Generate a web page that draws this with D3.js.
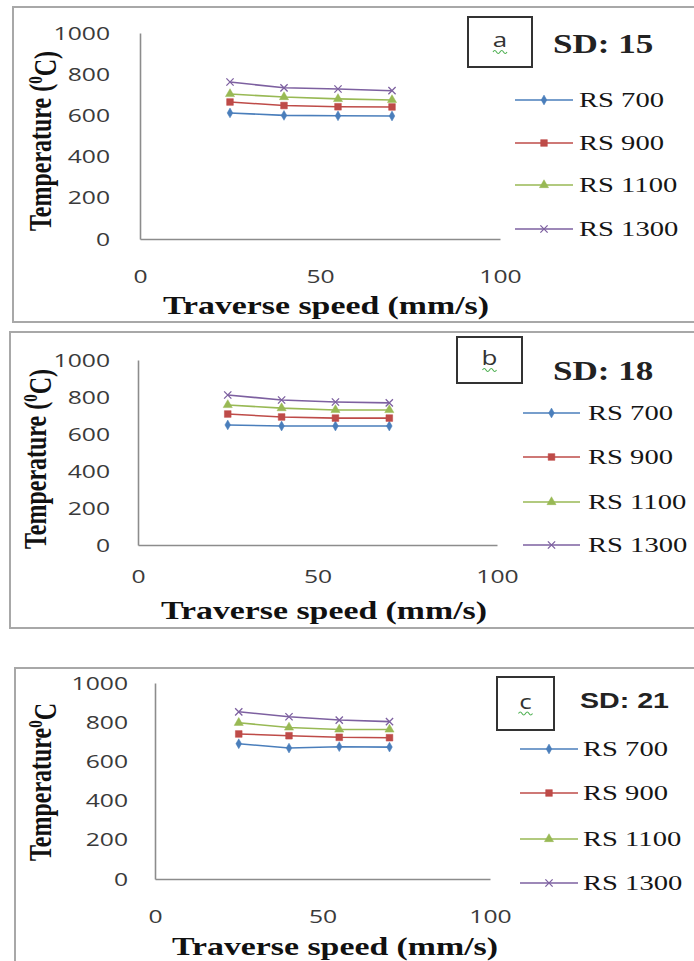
<!DOCTYPE html>
<html>
<head>
<meta charset="utf-8">
<script src="https://cdn.jsdelivr.net/npm/d3@7"></script>
<style>
  body { margin: 0; background: #fff; }
</style>
</head>
<body>
<div id="chart"></div>
<script>
'use strict';

// Data
const speeds = [25, 40, 55, 70];
const seriesNames = ['RS 700', 'RS 900', 'RS 1100', 'RS 1300'];
const tempTicks = [0, 200, 400, 600, 800, 1000];
const speedTicks = [0, 50, 100];

// temperatures per series (RS 700, 900, 1100, 1300) at each speed
const tempSD15 = [
    [612, 600, 598, 597],
    [665, 648, 642, 641],
    [704, 689, 680, 675],
    [762, 734, 728, 720]
];
const tempSD18 = [
    [649, 643, 643, 643],
    [708, 692, 686, 686],
    [757, 740, 730, 730],
    [811, 784, 773, 768]
];
const tempSD21 = [
    [690, 668, 675, 673],
    [740, 731, 723, 721],
    [797, 773, 763, 763],
    [853, 828, 811, 803]
];

// Configs
const W = 694, H = 961;
const SX = 1.3; // the original is stretched sideways
const colors = ['#4a7ebb', '#be4b48', '#98b954', '#7d60a0'];
const symbols = [d3.symbolDiamond, d3.symbolSquare, d3.symbolTriangle, d3.symbolX];
const symSize = [28, 45, 36, 36];
const serif = '"Liberation Serif", "Times New Roman", serif';
const sans = '"Open Sans", "Liberation Sans", sans-serif';

const panels = [
    {
        letter: 'a', sd: 'SD: 15', sdFont: serif, temps: tempSD15,
        frame: [13, 7, 315], plot: [140, 500, 239, 33],
        yGap: 30, xLabY: 270,
        yTitle: [40, 141], paren: true, xTitle: [326, 314],
        box: [468, 17, 64, 50], sdPos: [553, 53],
        legend: [515, 573, 579], rows: [100, 143, 185, 229]
    },
    {
        letter: 'b', sd: 'SD: 18', sdFont: serif, temps: tempSD18,
        frame: [10, 332, 296], plot: [138, 497, 545, 360],
        yGap: 28, xLabY: 570,
        yTitle: [35, 459], paren: true, xTitle: [324, 619],
        box: [457, 337, 65, 46], sdPos: [553, 380],
        legend: [523, 580, 588], rows: [413, 457, 502, 545]
    },
    {
        letter: 'c', sd: 'SD: 21', sdFont: '"Liberation Sans", Arial, sans-serif', temps: tempSD21,
        frame: [15, 668, 320], plot: [155, 490, 879, 683],
        yGap: 27, xLabY: 910,
        yTitle: [40, 782], paren: false, xTitle: [335, 955],
        box: [497, 677, 57, 53], sdPos: [580, 708],
        legend: [520, 578, 583], rows: [749, 793, 839, 883]
    }
];

const svg = d3.select('#chart')
    .append('svg')
    .attr('width', W)
    .attr('height', H);

// text squeezed back to the wide look of the picture
function wideText(sel, x, y, txt) {
    return sel.append('text')
        .attr('transform', `translate(${x},${y}) scale(${SX},1)`)
        .text(txt);
}

function marker(sel, i, cx, cy) {
    const isX = symbols[i] === d3.symbolX;
    sel.append('path')
        .attr('d', d3.symbol(symbols[i], symSize[i])())
        .attr('transform', `translate(${cx},${cy})`)
        .attr('fill', isX ? 'none' : colors[i])
        .attr('stroke', colors[i])
        .attr('stroke-width', isX ? 1.3 : 0.5);
}

function drawPanel(p) {
    const g = svg.append('g');

    // Frame
    g.append('rect')
        .attr('x', p.frame[0])
        .attr('y', p.frame[1])
        .attr('width', W + 20 - p.frame[0])
        .attr('height', p.frame[2])
        .attr('fill', 'none')
        .attr('stroke', '#a8a8a8')
        .attr('stroke-width', 2);

    // Scales
    const x = d3.scaleLinear().domain([0, 100]).range([p.plot[0], p.plot[1]]);
    const y = d3.scaleLinear().domain([0, 1000]).range([p.plot[2], p.plot[3]]);

    // Y axis
    const ya = g.append('g')
        .attr('transform', `translate(${p.plot[0]},0)`)
        .call(d3.axisLeft(y).tickValues(tempTicks).tickFormat(d3.format('d')).tickSize(0).tickSizeOuter(0));
    ya.select('.domain').attr('stroke', '#8c8c8c').attr('stroke-width', 1.6);
    ya.selectAll('text')
        .attr('x', -p.yGap / SX)
        .attr('transform', `scale(${SX},1)`)
        .attr('font-family', sans)
        .attr('font-size', 19)
        .attr('fill', '#3a3a3a');

    // X axis
    const xa = g.append('g')
        .attr('transform', `translate(0,${p.plot[2]})`)
        .call(d3.axisBottom(x).tickValues(speedTicks).tickFormat(d3.format('d')).tickSize(0).tickSizeOuter(0));
    xa.select('.domain').attr('stroke', '#8c8c8c').attr('stroke-width', 1.6);
    xa.selectAll('text')
        .attr('y', p.xLabY - p.plot[2])
        .attr('x', 0)
        .attr('transform', `scale(${SX},1)`)
        .attr('font-family', sans)
        .attr('font-size', 19)
        .attr('fill', '#3a3a3a');

    // Lines
    const line = d3.line()
        .x((d, j) => x(speeds[j]))
        .y(d => y(d));
    p.temps.forEach((vals, i) => {
        g.append('path')
            .datum(vals)
            .attr('d', line)
            .attr('fill', 'none')
            .attr('stroke', colors[i])
            .attr('stroke-width', 1.6);
        vals.forEach((v, j) => marker(g, i, x(speeds[j]), y(v)));
    });

    // Legend
    seriesNames.forEach((name, i) => {
        const ry = p.rows[i];
        g.append('line')
            .attr('x1', p.legend[0]).attr('x2', p.legend[1])
            .attr('y1', ry).attr('y2', ry)
            .attr('stroke', colors[i])
            .attr('stroke-width', 1.6);
        marker(g, i, (p.legend[0] + p.legend[1]) / 2, ry);
        wideText(g, p.legend[2], ry + 7, name)
            .attr('font-family', serif)
            .attr('font-size', 22)
            .attr('fill', '#151515');
    });

    // Letter box
    const b = p.box;
    g.append('rect')
        .attr('x', b[0]).attr('y', b[1])
        .attr('width', b[2]).attr('height', b[3])
        .attr('fill', '#fff')
        .attr('stroke', '#333')
        .attr('stroke-width', 2);
    const lx = b[0] + b[2] / 2, ly = b[1] + b[3] / 2;
    wideText(g, lx, ly + 5, p.letter)
        .attr('text-anchor', 'middle')
        .attr('font-family', sans)
        .attr('font-size', 20)
        .attr('fill', '#333');
    g.append('path')
        .attr('d', `M${lx - 7},${ly + 10} q1.75,-3 3.5,0 t3.5,0 t3.5,0 t3.5,0`)
        .attr('fill', 'none')
        .attr('stroke', '#4caf50')
        .attr('stroke-width', 1.1);

    // SD label
    wideText(g, p.sdPos[0], p.sdPos[1], p.sd)
        .attr('font-family', p.sdFont)
        .attr('font-weight', 'bold')
        .attr('font-size', p.sdFont === serif ? 27 : 22)
        .attr('fill', '#222');

    // Y title
    const yt = g.append('text')
        .attr('transform', `translate(${p.yTitle[0]},${p.yTitle[1]}) rotate(-90) scale(1,${SX})`)
        .attr('text-anchor', 'middle')
        .attr('dy', '0.35em')
        .attr('font-family', serif)
        .attr('font-weight', 'bold')
        .attr('font-size', 24)
        .attr('fill', '#111');
    yt.append('tspan').text(p.paren ? 'Temperature (' : 'Temperature');
    yt.append('tspan').attr('dy', '-0.45em').attr('font-size', 15).text('0');
    yt.append('tspan').attr('dy', '0.45em').text(p.paren ? 'C)' : 'C');

    // X title
    wideText(g, p.xTitle[0], p.xTitle[1], 'Traverse speed (mm/s)')
        .attr('text-anchor', 'middle')
        .attr('font-family', serif)
        .attr('font-weight', 'bold')
        .attr('font-size', 26)
        .attr('fill', '#111');
}

panels.forEach(drawPanel);
</script>
</body>
</html>
